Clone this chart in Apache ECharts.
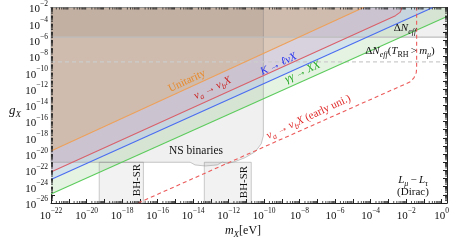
<!DOCTYPE html>
<html><head><meta charset="utf-8">
<script src="https://cdn.jsdelivr.net/npm/echarts@6/dist/echarts.min.js"></script>
<style>html,body{margin:0;padding:0;background:#fff}#c{width:463px;height:244px}</style>
</head><body><div id="c"></div>
<script>
// ---- data (m_X in eV, g_X); plotted on log10 scales ----
const xRange = [1e-22, 2];
const yRange = [1e-26, 1e-2];
const xTickExps = [-22,-20,-18,-16,-14,-12,-10,-8,-6,-4,-2,0];
const yTickExps = [-26,-24,-22,-20,-18,-16,-14,-12,-10,-8,-6,-4,-2];
const unitarityLine = [[1e-22, 2.5e-20], [4e-5, 1e-2]];
const nuDecayLine = [[1e-22, 6.3e-23], [2.5e-3, 1e-3], [4.5e-3, 2.5e-3], [5.5e-3, 6.3e-3], [5.5e-3, 1e-2]];
const kaonLine = [[1e-22, 7.9e-24], [0.32, 1e-2]];
const gammaLine = [[1e-22, 1.26e-25], [2, 7.9e-4]];
const earlyUniLine = [[8e-18, 1e-26], [1.8e-2, 7.9e-12], [2.8e-2, 2.5e-11], [3.7e-2, 1e-10], [3.9e-2, 3.2e-10], [3.9e-2, 1e-2]];
const nsRegion = [[1e-22,1e-2],[1e-22,1e-21],[6.9e-15,1e-21],[1.3e-14,4.7e-22],[4.9e-14,3.5e-22],[2.3e-13,4.7e-22],[4.4e-13,1.07e-21],[8.5e-13,7.1e-22],[2.4e-12,1.23e-21],[8.7e-12,3.8e-21],[3.2e-11,2e-20],[6.9e-11,1.86e-19],[9.1e-11,1.74e-18],[9.1e-11,1e-2]];
const bhsr1 = [[5.2e-20,1e-26],[1.6e-17,1e-26],[1.6e-17,1e-21],[5.2e-20,1e-21]];
const bhsr2 = [[4.3e-14,1e-26],[1.9e-11,1e-26],[1.9e-11,1e-21],[4.3e-14,1e-21]];
const dNeff = 2.3e-6;
const dNeffRH = 2.1e-9;
const dNeffLine = [[1e-22, dNeff], [2, dNeff]];
const dNeffRHLine = [[1e-22, dNeffRH], [2, dNeffRH]];
const dNeffRegion = [[1e-22, dNeff], [2, dNeff], [2, 1e-2], [1e-22, 1e-2]];

const F = '"Liberation Serif","DejaVu Serif",serif';
const L = v => Math.log10(v);
const toLog = arr => arr.map(p => [L(p[0]), L(p[1])]);
const chart = echarts.init(document.getElementById('c'), null, {renderer: 'canvas'});

function tickFmt(exps) {
  return function (v) {
    const e = Math.round(v);
    if (Math.abs(v - e) > 1e-6 || exps.indexOf(e) < 0) return '';
    return '{b|10}{p|' + (e < 0 ? '\u2212' + (-e) : e) + '}';
  };
}
const tickRich = {
  b: {fontSize: 11, fontFamily: F, color: '#111', lineHeight: 15, verticalAlign: 'bottom'},
  p: {fontSize: 7.5, fontFamily: F, color: '#111', lineHeight: 8, verticalAlign: 'top'}
};
function axisCommon(extra) {
  return Object.assign({
    type: 'value', interval: 1,
    axisLine: {show: true, onZero: false, lineStyle: {color: '#222', width: 1}},
    axisTick: {show: true, inside: true, length: 4, lineStyle: {color: '#222', width: 1}},
    splitLine: {show: false}
  }, extra);
}
function band(data, color, z) {
  return {type: 'line', data: toLog(data), symbol: 'none', silent: true, z,
    lineStyle: {width: 0, opacity: 0}, areaStyle: {color, opacity: 1, origin: 'end'}};
}
function stroke(data, color, z, dashed) {
  return {type: 'line', data: toLog(data), symbol: 'none', silent: true, z,
    lineStyle: {width: 1.1, color, type: dashed ? [4, 3] : 'solid'}};
}
function region(data, fill, strokeColor, z) {
  const pts = toLog(data);
  return {type: 'custom', coordinateSystem: 'cartesian2d', data: pts, silent: true, z,
    renderItem: function (params, api) {
      if (params.dataIndex !== 0) return null;
      return {type: 'polygon', shape: {points: pts.map(p => api.coord(p))},
        style: {fill, stroke: strokeColor || null, lineWidth: strokeColor ? 0.8 : 0}};
    }};
}
// log minor ticks (2..9 within each decade) on all four frame sides
function minorTicks() {
  const xs = [], ys = [];
  for (let d = L(xRange[0]); d < L(xRange[1]); d++) for (let k = 2; k <= 9; k++) { const v = d + L(k); if (v < L(xRange[1])) xs.push(v); }
  for (let d = L(yRange[0]); d < L(yRange[1]); d++) for (let k = 2; k <= 9; k++) ys.push(d + L(k));
  const xMin = L(xRange[0]), xMax = L(xRange[1]), yMin = L(yRange[0]), yMax = L(yRange[1]);
  return {type: 'custom', coordinateSystem: 'cartesian2d', data: [[xMin, yMin]], silent: true, z: 50,
    renderItem: function (params, api) {
      const ch = [];
      const t = 2;
      xs.forEach(v => {
        const b = api.coord([v, yMin]), tp = api.coord([v, yMax]);
        ch.push({type: 'line', shape: {x1: b[0], y1: b[1], x2: b[0], y2: b[1] - t}, style: {stroke: '#222', lineWidth: 0.8}});
        ch.push({type: 'line', shape: {x1: tp[0], y1: tp[1], x2: tp[0], y2: tp[1] + t}, style: {stroke: '#222', lineWidth: 0.8}});
      });
      ys.forEach(v => {
        const l = api.coord([xMin, v]), r = api.coord([xMax, v]);
        ch.push({type: 'line', shape: {x1: l[0], y1: l[1], x2: l[0] + t, y2: l[1]}, style: {stroke: '#222', lineWidth: 0.8}});
        ch.push({type: 'line', shape: {x1: r[0], y1: r[1], x2: r[0] - t, y2: r[1]}, style: {stroke: '#222', lineWidth: 0.8}});
      });
      return {type: 'group', children: ch};
    }};
}

chart.setOption({
  animation: false,
  backgroundColor: '#fff',
  grid: {left: 51, right: 16, top: 5, bottom: 41, containLabel: false},
  xAxis: [
    axisCommon({min: L(xRange[0]), max: L(xRange[1]), position: 'bottom',
      axisLabel: {formatter: tickFmt(xTickExps), rich: tickRich, margin: 4, hideOverlap: false, showMinLabel: true}}),
    axisCommon({min: L(xRange[0]), max: L(xRange[1]), position: 'top', axisLabel: {show: false}})
  ],
  yAxis: [
    axisCommon({min: L(yRange[0]), max: L(yRange[1]), position: 'left',
      axisLabel: {formatter: tickFmt(yTickExps), rich: tickRich, margin: 3, hideOverlap: false, showMinLabel: true, showMaxLabel: true}}),
    axisCommon({min: L(yRange[0]), max: L(yRange[1]), position: 'right', axisLabel: {show: false}})
  ],
  series: [
    band(gammaLine, '#e4f3e2', 1),
    band(kaonLine, '#d3e3ec', 2),
    band(nuDecayLine, '#d8d1de', 3),
    band(unitarityLine, '#dcc8b9', 4),
    region(bhsr1, 'rgba(0,0,0,0.05)', 'rgba(140,140,140,0.55)', 5),
    region(bhsr2, 'rgba(0,0,0,0.05)', 'rgba(140,140,140,0.55)', 5),
    region(nsRegion, 'rgba(0,0,0,0.06)', 'rgba(140,140,140,0.6)', 6),
    region(dNeffRegion, 'rgba(0,0,0,0.06)', null, 7),
    stroke(dNeffLine, '#bdbdbd', 8),
    stroke(dNeffRHLine, '#cccccc', 8, true),
    stroke(gammaLine, '#5ccb5c', 10),
    stroke(kaonLine, '#4a6cf0', 10),
    stroke(nuDecayLine, '#d9606a', 10),
    stroke(unitarityLine, '#eea05a', 10),
    stroke(earlyUniLine, '#ec5a5a', 10, true),
    minorTicks()
  ]
});

function rich(size, color) {
  const base = {fontSize: size, fontFamily: F, fill: color, lineHeight: size + 2, verticalAlign: 'top'};
  const ss = Math.round(size * 0.72);
  const sub = {fontSize: ss, fontFamily: F, fill: color, lineHeight: size, verticalAlign: 'bottom'};
  return {
    n: base,
    i: Object.assign({}, base, {fontStyle: 'italic'}),
    s: Object.assign({}, sub, {fontStyle: 'italic'}),
    u: sub
  };
}
function label(text, x, y, size, color, rotDeg) {
  return {type: 'text', x, y, rotation: (rotDeg || 0) * Math.PI / 180, z: 100, silent: true,
    style: {text, fill: color, fontSize: size, fontFamily: F, rich: rich(size, color), align: 'center', verticalAlign: 'middle'}};
}
const ang = 25;
const ar = '{n|\u2009\u2192\u2009}';
chart.setOption({
  graphic: [
    label('Unitarity', 187, 81, 11, '#e8892a', ang),
    label('{i|\u03bd}{s|a}' + ar + '{i|\u03bd}{s|b}{i|X}', 213, 89, 11, '#cc2424', ang),
    label('{i|K}' + ar + '{i|\u2113\u03bdX}', 279, 65, 11, '#1e2cf0', ang),
    label('{i|\u03b3\u03b3}' + ar + '{i|XX}', 303, 73, 11, '#22a822', ang),
    label('{n|\u0394}{i|N}{s|eff}', 405, 29, 11, '#111', 0),
    label('{n|\u0394}{i|N}{s|eff}{n|(}{i|T}{u|RH}{n|\u2009>\u2009}{i|m}{s|\u03bc}{n|)}', 400, 52, 11, '#111', 0),
    label('NS binaries', 196, 151, 11.5, '#111', 0),
    label('BH-SR', 137, 180, 11, '#111', 90),
    label('BH-SR', 244, 182, 11, '#111', 90),
    label('{i|\u03bd}{s|a}' + ar + '{i|\u03bd}{s|b}{i|X}{n| (early uni.)}', 309, 118, 11, '#e02828', ang),
    label('{i|L}{s|\u03bc}{n|\u2009\u2212\u2009}{i|L}{s|\u03c4}', 413, 181, 11, '#111', 0),
    label('(Dirac)', 413, 192, 11, '#111', 0),
    label('{i|g}{s|X}', 15, 112, 13, '#111', 0),
    label('{i|m}{s|X}{n|[eV]}', 243, 232, 12, '#111', 0)
  ]
});
</script>
</body></html>
